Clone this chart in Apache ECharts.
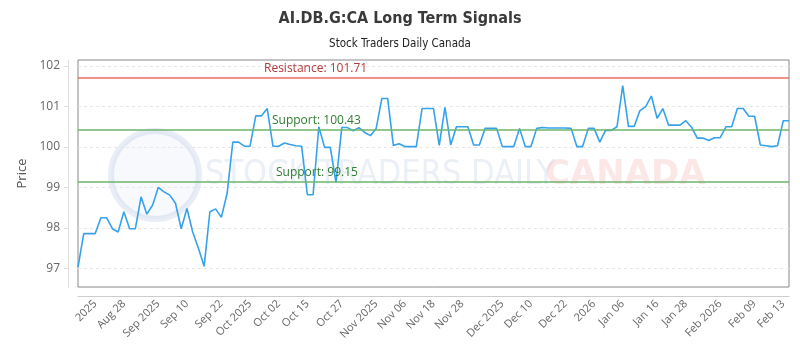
<!DOCTYPE html>
<html>
<head>
<meta charset="utf-8">
<script src="https://cdn.jsdelivr.net/npm/echarts@6/dist/echarts.min.js"></script>
<style>
  html, body { margin: 0; padding: 0; background: #fff; }
  #chart { width: 800px; height: 350px; }
</style>
</head>
<body>
<div id="chart"></div>
<script>
// closing prices, one per trading session
var prices = [
  97.03, 97.86, 97.86, 97.86, 98.25, 98.25, 97.98, 97.90, 98.40, 97.98,
  97.98, 98.77, 98.34, 98.56, 99.00, 98.89, 98.81, 98.61, 97.98, 98.48,
  97.90, 97.50, 97.05, 98.40, 98.47, 98.26, 98.85, 100.12, 100.12, 100.02,
  100.02, 100.77, 100.77, 100.95, 100.02, 100.02, 100.10, 100.06, 100.03, 100.02,
  98.82, 98.82, 100.50, 99.99, 99.99, 99.12, 100.48, 100.48, 100.40, 100.48,
  100.36, 100.28, 100.46, 101.20, 101.20, 100.04, 100.08, 100.01, 100.01, 100.01,
  100.95, 100.95, 100.95, 100.04, 100.98, 100.05, 100.50, 100.50, 100.50, 100.05,
  100.05, 100.46, 100.46, 100.46, 100.01, 100.01, 100.01, 100.46, 100.01, 100.01,
  100.46, 100.48, 100.47, 100.47, 100.47, 100.47, 100.46, 100.01, 100.01, 100.46,
  100.46, 100.12, 100.41, 100.41, 100.50, 101.52, 100.51, 100.51, 100.90, 101.00,
  101.26, 100.71, 100.95, 100.54, 100.54, 100.54, 100.65, 100.49, 100.22, 100.22,
  100.16, 100.23, 100.23, 100.50, 100.50, 100.95, 100.95, 100.76, 100.76, 100.05,
  100.03, 100.01, 100.03, 100.65, 100.65
];

// x tick labels and the session they sit on
var tickIdx = [3, 8, 14, 19, 25, 30, 35, 40, 46, 52, 57, 62, 67, 74, 79, 85, 90, 95, 101, 106, 112, 118, 123];
var tickLabels = ['2025', 'Aug 28', 'Sep 2025', 'Sep 10', 'Sep 22', 'Oct 2025', 'Oct 02', 'Oct 15', 'Oct 27',
  'Nov 2025', 'Nov 06', 'Nov 18', 'Nov 28', 'Dec 2025', 'Dec 10', 'Dec 22', '2026', 'Jan 06', 'Jan 16',
  'Jan 28', 'Feb 2026', 'Feb 09', 'Feb 13'];

var resistance = [101.71];
var supports = [100.43, 99.15];

var categories = prices.map(function (p, i) {
  var k = tickIdx.indexOf(i);
  return k >= 0 ? tickLabels[k] : '';
});

var narrow = '"Liberation Sans Narrow", "DejaVu Sans Condensed", sans-serif';
var chart = echarts.init(document.getElementById('chart'));

chart.setOption({
  animation: false,
  title: {
    text: 'AI.DB.G:CA Long Term Signals',
    subtext: 'Stock Traders Daily Canada',
    left: 'center',
    top: 6,
    itemGap: 11,
    textStyle: { fontFamily: narrow, fontSize: 16, fontWeight: 'bold', color: '#3a3a3a' },
    subtextStyle: { fontFamily: narrow, fontSize: 11.5, color: '#222' }
  },
  graphic: [
    {
      type: 'circle', shape: { cx: 155, cy: 175, r: 44 }, silent: true, z: 0,
      style: { fill: 'rgba(225,232,245,0.25)', stroke: 'rgba(205,215,235,0.45)', lineWidth: 6 }
    },
    {
      type: 'text', left: 205, top: 158, silent: true, z: 0,
      style: { text: 'STOCK TRADERS DAILY', font: '34px "DejaVu Sans Condensed", sans-serif', fill: 'rgba(205,215,232,0.4)' }
    },
    {
      type: 'text', left: 545, top: 158, silent: true, z: 0,
      style: { text: 'CANADA', font: 'bold 34px "DejaVu Sans", sans-serif', fill: 'rgba(245,170,170,0.28)' }
    }
  ],
  grid: {
    left: 78, right: 11, top: 60, bottom: 63,
    show: true, borderColor: '#888', borderWidth: 1
  },
  xAxis: {
    type: 'category',
    data: categories,
    boundaryGap: false,
    offset: 9,
    axisLine: { lineStyle: { color: '#ccc' } },
    axisTick: { show: false },
    axisLabel: {
      rotate: 45,
      interval: function (i) { return tickIdx.indexOf(i) >= 0; },
      color: '#666',
      fontFamily: '"Open Sans", sans-serif',
      fontSize: 11,
      margin: 6
    },
    splitLine: { show: false }
  },
  yAxis: {
    type: 'value',
    min: 96.54,
    max: 102.15,
    offset: 10,
    name: 'Price',
    nameLocation: 'middle',
    nameGap: 35,
    nameTextStyle: { color: '#555', fontFamily: '"Open Sans", sans-serif', fontSize: 13 },
    axisLine: { show: true, lineStyle: { color: '#ddd' } },
    axisTick: { show: true, length: 4, lineStyle: { color: '#ddd' } },
    axisLabel: {
      color: '#666', fontFamily: '"Open Sans", sans-serif', fontSize: 12,
      showMinLabel: false, showMaxLabel: false
    },
    splitLine: {
      show: true, showMinLine: false, showMaxLine: false,
      lineStyle: { color: '#e6e6e6', type: [3, 3] }
    }
  },
  series: [{
    type: 'line',
    data: prices,
    showSymbol: false,
    lineStyle: { color: '#36a2eb', width: 1.6 },
    itemStyle: { color: '#36a2eb' },
    z: 3,
    markLine: {
      silent: true,
      symbol: 'none',
      data: [
        {
          yAxis: resistance[0],
          lineStyle: { color: 'rgba(235,110,100,0.75)', width: 2, type: 'solid' },
          label: {
            formatter: 'Resistance: ' + resistance[0],
            position: 'insideStartTop', distance: [186, 3],
            color: '#b33a3a', fontFamily: '"Open Sans", sans-serif', fontSize: 12
          }
        },
        {
          yAxis: supports[0],
          lineStyle: { color: 'rgba(110,180,110,0.75)', width: 2, type: 'solid' },
          label: {
            formatter: 'Support: ' + supports[0],
            position: 'insideStartTop', distance: [194, 3],
            color: '#2e7d32', fontFamily: '"Open Sans", sans-serif', fontSize: 12
          }
        },
        {
          yAxis: supports[1],
          lineStyle: { color: 'rgba(110,180,110,0.75)', width: 2, type: 'solid' },
          label: {
            formatter: 'Support: ' + supports[1],
            position: 'insideStartTop', distance: [198, 3],
            color: '#2e7d32', fontFamily: '"Open Sans", sans-serif', fontSize: 12
          }
        }
      ]
    }
  }]
});
</script>
</body>
</html>
